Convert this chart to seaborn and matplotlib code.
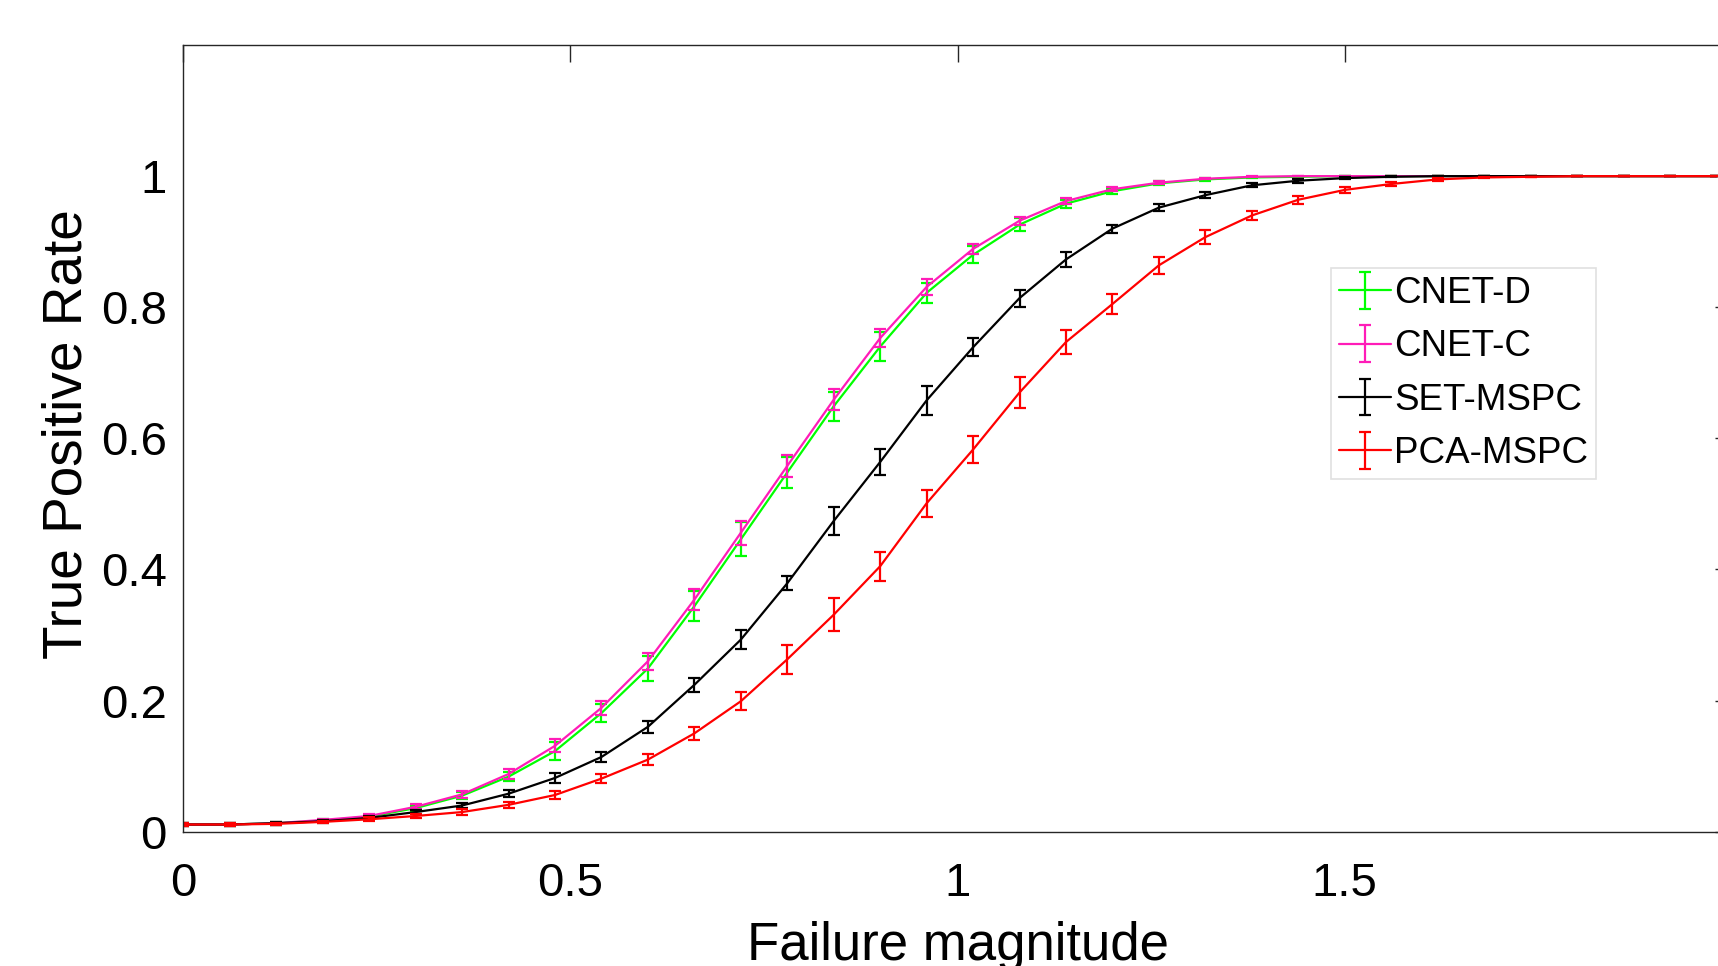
import numpy as np
import matplotlib
matplotlib.use('Agg')
import matplotlib.pyplot as plt
import seaborn as sns
from matplotlib.legend_handler import HandlerTuple

# Failure magnitudes (x positions of the points)
magnitude = [0.00, 0.06, 0.12, 0.18, 0.24, 0.30, 0.36, 0.42, 0.48, 0.54,
             0.60, 0.66, 0.72, 0.78, 0.84, 0.90, 0.96, 1.02, 1.08, 1.14,
             1.20, 1.26, 1.32, 1.38, 1.44, 1.50, 1.56, 1.62, 1.68, 1.74,
             1.80, 1.86, 1.92, 1.98]

# True positive rate per method (mean) and error bar half-size
cnet_d = [0.011, 0.011, 0.013, 0.017, 0.023, 0.036, 0.055, 0.084, 0.123, 0.181,
          0.249, 0.344, 0.446, 0.548, 0.649, 0.740, 0.822, 0.880, 0.926, 0.958,
          0.977, 0.989, 0.995, 0.998, 0.999, 1.0, 1.0, 1.0, 1.0, 1.0,
          1.0, 1.0, 1.0, 1.0]
cnet_d_err = [0.002, 0.002, 0.002, 0.002, 0.003, 0.004, 0.005, 0.007, 0.014, 0.014,
              0.019, 0.023, 0.026, 0.024, 0.022, 0.022, 0.015, 0.013, 0.010, 0.006,
              0.004, 0.003, 0.002, 0.001, 0.0, 0.0, 0.0, 0.0, 0.0, 0.0,
              0.0, 0.0, 0.0, 0.0]

cnet_c = [0.011, 0.011, 0.013, 0.018, 0.024, 0.038, 0.057, 0.088, 0.131, 0.189,
          0.260, 0.354, 0.456, 0.558, 0.659, 0.753, 0.831, 0.889, 0.932, 0.962,
          0.980, 0.990, 0.996, 0.999, 1.0, 1.0, 1.0, 1.0, 1.0, 1.0,
          1.0, 1.0, 1.0, 1.0]
cnet_c_err = [0.002, 0.002, 0.002, 0.002, 0.003, 0.004, 0.005, 0.007, 0.010, 0.011,
              0.013, 0.016, 0.018, 0.017, 0.016, 0.014, 0.012, 0.008, 0.006, 0.004,
              0.003, 0.002, 0.001, 0.001, 0.0, 0.0, 0.0, 0.0, 0.0, 0.0,
              0.0, 0.0, 0.0, 0.0]

set_mspc = [0.011, 0.011, 0.013, 0.016, 0.021, 0.030, 0.040, 0.058, 0.082, 0.114,
            0.160, 0.224, 0.293, 0.379, 0.474, 0.564, 0.658, 0.739, 0.814, 0.873,
            0.920, 0.952, 0.971, 0.986, 0.993, 0.997, 0.999, 1.0, 1.0, 1.0,
            1.0, 1.0, 1.0, 1.0]
set_mspc_err = [0.002, 0.002, 0.002, 0.002, 0.003, 0.003, 0.004, 0.005, 0.007, 0.007,
                0.009, 0.011, 0.015, 0.011, 0.021, 0.020, 0.022, 0.014, 0.013, 0.011,
                0.006, 0.005, 0.005, 0.003, 0.003, 0.002, 0.001, 0.0, 0.0, 0.0,
                0.0, 0.0, 0.0, 0.0]

pca_mspc = [0.011, 0.011, 0.012, 0.015, 0.019, 0.024, 0.030, 0.041, 0.056, 0.081,
            0.110, 0.150, 0.199, 0.263, 0.331, 0.405, 0.501, 0.583, 0.670, 0.747,
            0.805, 0.864, 0.907, 0.940, 0.964, 0.979, 0.988, 0.995, 0.998, 0.999,
            1.0, 1.0, 1.0, 1.0]
pca_mspc_err = [0.002, 0.002, 0.002, 0.002, 0.003, 0.003, 0.004, 0.005, 0.006, 0.007,
                0.008, 0.010, 0.014, 0.022, 0.025, 0.022, 0.021, 0.020, 0.024, 0.019,
                0.015, 0.013, 0.011, 0.007, 0.006, 0.004, 0.003, 0.002, 0.001, 0.0,
                0.0, 0.0, 0.0, 0.0]

methods = ['CNET-D', 'CNET-C', 'SET-MSPC', 'PCA-MSPC']
series = [cnet_d, cnet_c, set_mspc, pca_mspc]
errors = [cnet_d_err, cnet_c_err, set_mspc_err, pca_mspc_err]
colors = ['#00ff00', '#ff1cb8', '#000000', '#ff0000']

xticks = [0, 0.5, 1, 1.5]
xtick_labels = ['0', '0.5', '1', '1.5']
yticks = [0, 0.2, 0.4, 0.6, 0.8, 1]
ytick_labels = ['0', '0.2', '0.4', '0.6', '0.8', '1']

sns.set_theme(style='white')
plt.rcParams['font.family'] = ['Liberation Sans', 'DejaVu Sans']

fig = plt.figure(figsize=(17.18, 9.66), dpi=100)
ax = fig.add_axes([0.1067, 0.139, 0.9014, 0.8144])

handles = []
for name, y, err, c in zip(methods, series, errors, colors):
    sns.lineplot(x=magnitude, y=y, color=c, linewidth=1.6, ax=ax, legend=False)
    line = ax.lines[-1]
    eb = ax.errorbar(magnitude, y, yerr=err, fmt='none', ecolor=c,
                     elinewidth=1.6, capsize=4, capthick=1.6)
    handles.append((line, eb))

ax.set_xlim(0, 2)
ax.set_ylim(0, 1.2)
ax.set_xticks(xticks)
ax.set_xticklabels(xtick_labels)
ax.set_yticks(yticks)
ax.set_yticklabels(ytick_labels)
ax.tick_params(axis='both', direction='in', length=12, width=1, colors='#262626',
               labelcolor='black', labelsize=34, top=True, right=True)
ax.tick_params(axis='x', pad=22)
ax.tick_params(axis='y', pad=12)
for s in ax.spines.values():
    s.set_color('#262626')
    s.set_linewidth(1)
    s.set_visible(True)

ax.set_xlabel('Failure magnitude', fontsize=38, color='black')
ax.set_ylabel('True Positive Rate', fontsize=39.5, color='black')
ax.xaxis.set_label_coords(0.5, -0.113)
ax.yaxis.set_label_coords(-0.058, 0.505)

leg = ax.legend(handles, methods, handler_map={tuple: HandlerTuple(ndivide=1, pad=0)},
                loc='upper left', bbox_to_anchor=(0.7747, 0.7226),
                bbox_transform=fig.transFigure, fontsize=26.5, frameon=True,
                fancybox=False, borderpad=0.22, labelspacing=0.5,
                handlelength=1.4, handletextpad=0.1, borderaxespad=0,
                labelcolor='black')
leg.get_frame().set_edgecolor('#d9d9d9')
leg.get_frame().set_linewidth(1.2)

fig.savefig('out.png', dpi=100)
